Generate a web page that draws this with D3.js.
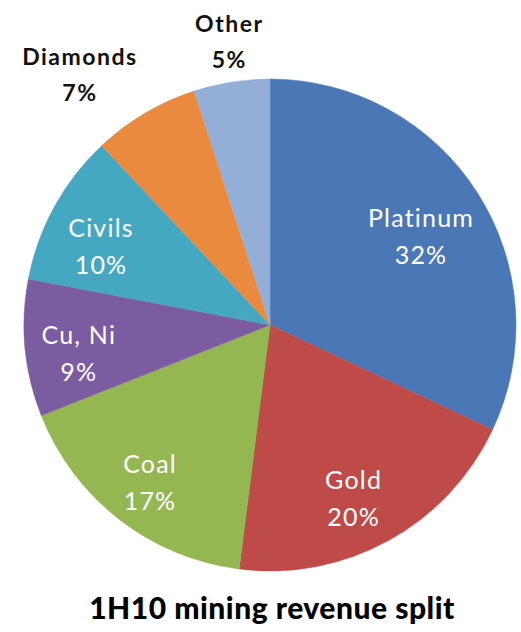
<!DOCTYPE html>
<html>
<head>
<meta charset="utf-8">
<script src="https://cdn.jsdelivr.net/npm/d3@7"></script>
<style>
  html, body { margin: 0; padding: 0; background: #ffffff; }
  svg { display: block; }
</style>
</head>
<body>
<div id="chart"></div>
<script>
// ---- data ----
const categories = ["Platinum", "Gold", "Coal", "Cu, Ni", "Civils", "Diamonds", "Other"];
const values = [32, 20, 17, 9, 10, 7, 5];
const colors = ["#4a78b6", "#be4b48", "#95b752", "#7b5ca0", "#45a8c2", "#ea8a3e", "#93afd8"];
const outsideLabels = ["Diamonds", "Other"];
const title = "1H10 mining revenue split";

// ---- layout ----
const W = 521, H = 632;
const cx = 270, cy = 325, R = 246;

const svg = d3.select("#chart").append("svg")
  .attr("width", W).attr("height", H);

const data = categories.map((c, i) => ({ name: c, value: values[i], color: colors[i] }));

const pie = d3.pie().value(d => d.value).sort(null);
const arcs = pie(data);
const arc = d3.arc().innerRadius(0).outerRadius(R);
const labelR = 186;
const labelArc = d3.arc().innerRadius(labelR).outerRadius(labelR);

const g = svg.append("g").attr("transform", `translate(${cx},${cy})`);

g.selectAll("path.slice").data(arcs).enter().append("path")
  .attr("class", "slice")
  .attr("d", arc)
  .attr("fill", d => d.data.color)
  .attr("stroke", d => d.data.color)
  .attr("stroke-width", 0.5);

const fontFam = "Lato, 'Open Sans', sans-serif";
const lineGap = 37;
const offX = -6, offY = 20;

// inside labels
arcs.filter(d => !outsideLabels.includes(d.data.name)).forEach(d => {
  const [x0, y0] = labelArc.centroid(d);
  const x = x0 + offX, y = y0 + offY;
  const t = g.append("text")
    .attr("text-anchor", "middle")
    .attr("font-family", fontFam)
    .attr("font-size", 25)
    .attr("letter-spacing", 1.2)
    .attr("fill", "#ffffff");
  t.append("tspan").attr("x", x).attr("y", y - lineGap / 2).text(d.data.name);
  t.append("tspan").attr("x", x).attr("y", y + lineGap / 2).text(d.data.value + "%");
});

// outside labels
arcs.filter(d => outsideLabels.includes(d.data.name)).forEach(d => {
  const a = (d.startAngle + d.endAngle) / 2;
  const rr = R + 14;
  const x = Math.sin(a) * rr, y = -Math.cos(a) * rr;
  const s = Math.sin(a);
  const t = g.append("text")
    .attr("text-anchor", "middle")
    .attr("font-family", fontFam)
    .attr("font-size", 23)
    .attr("letter-spacing", 1.5)
    .attr("font-weight", "bold")
    .attr("fill", "#111111");
  const l1 = t.append("tspan").attr("y", y - 36).text(d.data.name);
  const l2 = t.append("tspan").attr("y", y).text(d.data.value + "%");
  const w = Math.max(l1.node().getComputedTextLength(), l2.node().getComputedTextLength());
  const xc = Math.abs(s) < 0.3 ? x : (s < 0 ? x - w / 2 : x + w / 2);
  l1.attr("x", xc); l2.attr("x", xc);
});

// title
svg.append("text")
  .attr("x", 272).attr("y", 619)
  .attr("text-anchor", "middle")
  .attr("font-family", fontFam)
  .attr("font-weight", "900")
  .attr("font-size", 30)
  .attr("letter-spacing", 0.5)
  .attr("fill", "#000000")
  .text(title);
</script>
</body>
</html>
